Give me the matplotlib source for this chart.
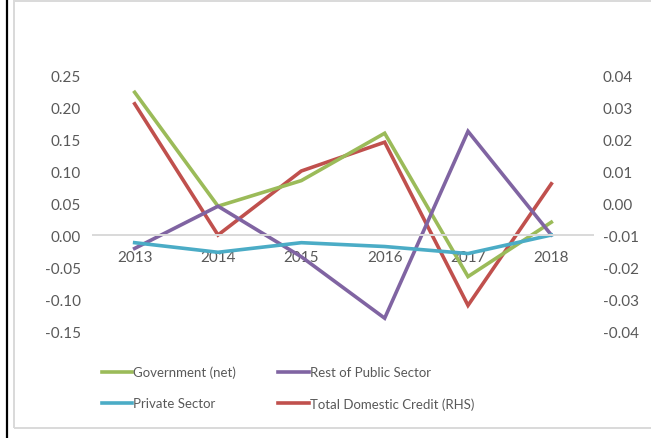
import matplotlib
matplotlib.use("Agg")
import matplotlib.pyplot as plt
from matplotlib.lines import Line2D
from matplotlib.patches import Rectangle

plt.rcParams['font.family'] = ['Lato', 'DejaVu Sans']

years = ["2013", "2014", "2015", "2016", "2017", "2018"]
government_net = [0.223, 0.045, 0.085, 0.159, -0.065, 0.020]
rest_public = [-0.021, 0.045, -0.034, -0.130, 0.162, 0.000]
private_sector = [-0.012, -0.027, -0.012, -0.018, -0.029, 0.000]
total_credit_rhs = [0.031, -0.010, 0.010, 0.019, -0.032, 0.006]

left_ticks = [-0.15, -0.10, -0.05, 0.00, 0.05, 0.10, 0.15, 0.20, 0.25]
right_ticks = [-0.04, -0.03, -0.02, -0.01, 0.00, 0.01, 0.02, 0.03, 0.04]

c_gov = "#9BBB59"
c_rest = "#8064A2"
c_priv = "#4BACC6"
c_total = "#C0504D"
txt = "#595959"
grid_c = "#D9D9D9"

W, H = 651, 439
fig = plt.figure(figsize=(W / 100, H / 100), dpi=100)

# outer frame: black rule at left, light grey box
fig.add_artist(Line2D([6.5 / W, 6.5 / W], [0, 1], color="black", lw=1.6,
                      transform=fig.transFigure))
fig.add_artist(Rectangle((13.5 / W, 1 - 429 / H), 1.0, (429 - 1.5) / H,
                         transform=fig.transFigure, fill=False,
                         edgecolor=grid_c, lw=1.4))

ax = fig.add_axes([93 / W, 1 - 332 / H, 500 / W, 256 / H])
ax2 = ax.twinx()

x = list(range(len(years)))
lw = 2.6
l1, = ax.plot(x, government_net, color=c_gov, lw=lw, label="Government (net)",
              solid_joinstyle="miter")
l2, = ax.plot(x, rest_public, color=c_rest, lw=lw, label="Rest of Public Sector",
              solid_joinstyle="miter")
l3, = ax.plot(x, private_sector, color=c_priv, lw=lw, label="Private Sector",
              solid_joinstyle="round")
l4, = ax2.plot(x, total_credit_rhs, color=c_total, lw=lw,
               label="Total Domestic Credit (RHS)", solid_joinstyle="miter")

ax.set_xlim(-0.5, len(years) - 0.5)
ax.set_ylim(-0.15, 0.25)
ax2.set_ylim(-0.04, 0.04)
ax.set_yticks(left_ticks)
ax.set_yticklabels([f"{v:.2f}" for v in left_ticks])
ax2.set_yticks(right_ticks)
ax2.set_yticklabels([f"{v:.2f}" for v in right_ticks])
ax.set_xticks(x)
ax.set_xticklabels(years)

for a in (ax, ax2):
    for s in ("top", "left", "right", "bottom"):
        a.spines[s].set_visible(False)
    a.patch.set_visible(False)
ax.spines["bottom"].set_visible(True)
ax.spines["bottom"].set_position(("data", 0))
ax.spines["bottom"].set_color(grid_c)
ax.spines["bottom"].set_linewidth(1.4)
ax.set_zorder(ax2.get_zorder() + 1)

ax.tick_params(axis="y", length=0, pad=9, labelsize=11, labelcolor=txt)
ax2.tick_params(axis="y", length=0, pad=7, labelsize=11, labelcolor=txt)
ax.tick_params(axis="x", length=0, pad=11, labelsize=11, labelcolor=txt)

fig.legend(handles=[l1, l3, l2, l4], ncol=2, frameon=False,
           loc="upper left", bbox_to_anchor=(95 / W, 1 - 360 / H),
           handlelength=2.3, handletextpad=0.1, columnspacing=3.2,
           labelspacing=1.45, fontsize=9.5, labelcolor=txt, borderpad=0)

fig.savefig("out.png", dpi=100)
